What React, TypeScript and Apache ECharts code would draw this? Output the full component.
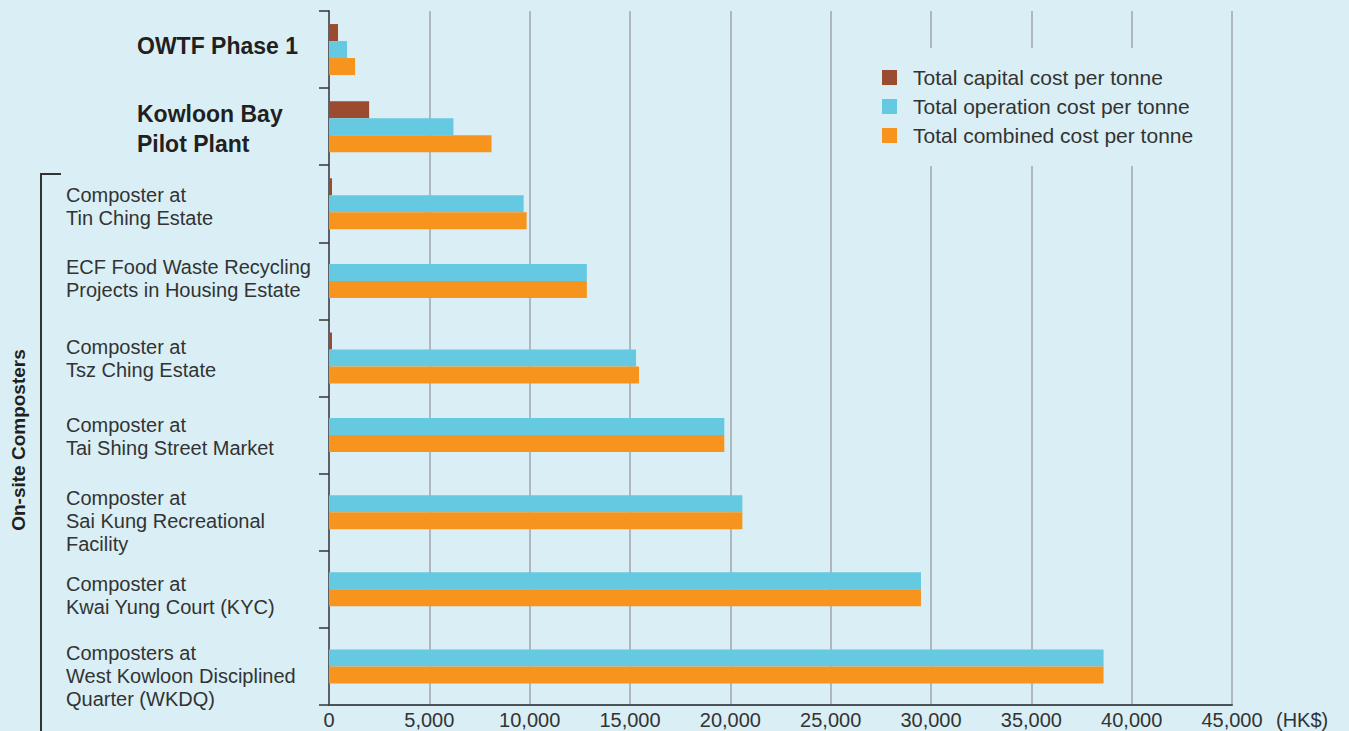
import React, { useEffect, useRef } from "react";
import * as echarts from "echarts";

const categories = [
  "OWTF Phase 1",
  "Kowloon Bay\nPilot Plant",
  "Composter at\nTin Ching Estate",
  "ECF Food Waste Recycling\nProjects in Housing Estate",
  "Composter at\nTsz Ching Estate",
  "Composter at\nTai Shing Street Market",
  "Composter at\nSai Kung Recreational\nFacility",
  "Composter at\nKwai Yung Court (KYC)",
  "Composters at\nWest Kowloon Disciplined\nQuarter (WKDQ)",
];
const boldCategories = [0, 1];

// null = no capital-cost bar shown for that facility
const capitalCost = [450, 2000, 150, null, 150, null, null, null, null];
const operationCost = [900, 6200, 9700, 12850, 15300, 19700, 20600, 29500, 38600];
const combinedCost = [1300, 8100, 9850, 12850, 15450, 19700, 20600, 29500, 38600];

const seriesNames = [
  "Total capital cost per tonne",
  "Total operation cost per tonne",
  "Total combined cost per tonne",
];
const xTicks = { min: 0, max: 45000, interval: 5000 };
const unitLabel = "(HK$)";
const groupLabel = "On-site Composters";

// layout only: vertical nudge (px) of each category label
const LABEL_SHIFT = [-4, 2, 3, -2, 0, 1, 9, 6.5, 9.5];

const BG = "#d9eff5";
const FONT = "'Liberation Sans', Arial, sans-serif";
const COLORS = ["#9a4b30", "#64c9e1", "#f7941e"];

export default function App() {
  const ref = useRef<HTMLDivElement>(null);
  useEffect(() => {
    if (!ref.current) return;
    const chart = echarts.init(ref.current, null, { renderer: "svg" });

    const nStyle = { fontSize: 20, lineHeight: 23, color: "#333", fontFamily: FONT };
    const bStyle = { fontSize: 23, lineHeight: 30, color: "#231f20", fontWeight: "bold", fontFamily: FONT, padding: [0, 0, 0, 71] };
    const rich: Record<string, any> = { n: nStyle, b: bStyle };
    categories.forEach((_, i) => {
      const s = Math.abs(LABEL_SHIFT[i]);
      if (s > 0) rich[`g${i}`] = { fontSize: 1, lineHeight: 2 * s, color: "rgba(0,0,0,0)" };
    });
    const labelFmt = (val: string) => {
      const i = categories.indexOf(val);
      const base = boldCategories.includes(i) ? "b" : "n";
      const lines = val.split("\n").map((l) => `{${base}|${l}}`);
      const s = LABEL_SHIFT[i] || 0;
      if (s > 0) lines.unshift(`{g${i}| }`);
      if (s < 0) lines.push(`{g${i}| }`);
      return lines.join("\n");
    };

    const hasCap = capitalCost.map((v) => v != null && v > 0);
    const pick = (arr: (number | null)[], want: boolean) => arr.map((v, i) => (hasCap[i] === want ? v : null));

    chart.setOption({
      animation: false,
      backgroundColor: BG,
      textStyle: { fontFamily: FONT },
      grid: { left: 329, top: 11, right: 117, bottom: 26, containLabel: false },
      legend: {
        orient: "vertical",
        left: 870,
        top: 48,
        padding: [19, 12, 20, 12],
        backgroundColor: BG,
        itemWidth: 15,
        itemHeight: 15,
        itemGap: 8,
        icon: "rect",
        data: seriesNames,
        textStyle: { fontSize: 21, lineHeight: 20, color: "#333", fontFamily: FONT, padding: [0, 0, 0, 11] },
      },
      xAxis: {
        type: "value",
        min: xTicks.min,
        max: xTicks.max,
        interval: xTicks.interval,
        axisLine: { show: true, lineStyle: { color: "#4d5459", width: 2 } },
        axisTick: { show: false },
        axisLabel: {
          fontSize: 20,
          color: "#333",
          margin: 5,
          fontFamily: FONT,
          formatter: (v: number) => v.toLocaleString("en-US"),
        },
        splitLine: { show: true, lineStyle: { color: "#9fa6aa", width: 1.5 } },
        name: unitLabel,
        nameLocation: "end",
        nameGap: 44,
        nameTextStyle: { fontSize: 20, color: "#333", fontFamily: FONT, verticalAlign: "top", padding: [5, 0, 0, 0] },
      },
      yAxis: [
        {
          type: "category",
          inverse: true,
          data: categories,
          axisLine: { show: true, lineStyle: { color: "#5b6166", width: 2 } },
          axisTick: { show: true, length: 10, lineStyle: { color: "#333", width: 1.5 } },
          axisLabel: { align: "left", margin: 263, formatter: labelFmt, rich },
          splitLine: { show: false },
        },
        {
          type: "category",
          inverse: true,
          data: categories,
          show: false,
        },
      ],
      series: [
        // facilities with a capital-cost bar: three bars per row
        ...[capitalCost, operationCost, combinedCost].map((arr, k) => ({
          name: seriesNames[k],
          type: "bar",
          yAxisIndex: 0,
          data: pick(arr, true),
          barWidth: 17,
          barGap: "0%",
          itemStyle: { color: COLORS[k] },
        })),
        // facilities without one: two bars centred on the row
        ...[operationCost, combinedCost].map((arr, k) => ({
          name: seriesNames[k + 1],
          type: "bar",
          yAxisIndex: 1,
          data: pick(arr, false),
          barWidth: 17,
          barGap: "0%",
          itemStyle: { color: COLORS[k + 1] },
        })),
      ],
      graphic: [
        {
          type: "polyline",
          shape: { points: [[61, 174], [41, 174], [41, 731]] },
          style: { stroke: "#333", lineWidth: 2, fill: null },
        },
        {
          type: "text",
          x: 18,
          y: 440,
          rotation: Math.PI / 2,
          style: {
            text: groupLabel,
            fontSize: 19,
            fontWeight: "bold",
            fill: "#231f20",
            fontFamily: FONT,
            align: "center",
            verticalAlign: "middle",
          },
        },
      ],
    });
    return () => chart.dispose();
  }, []);
  return <div ref={ref} style={{ position: "fixed", left: 0, top: 0, width: 1349, height: 731 }} />;
}
